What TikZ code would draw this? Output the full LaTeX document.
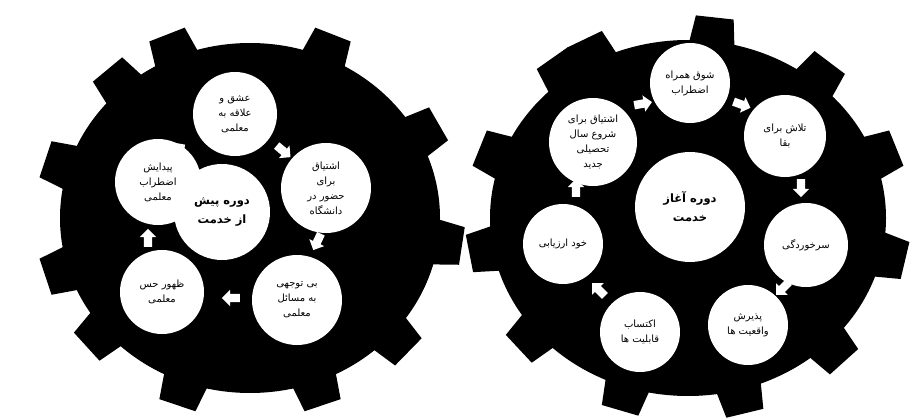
\documentclass[tikz,border=0pt]{standalone}
\usepackage{fontspec}
\newfontfamily\arabicfont[Script=Arabic]{DejaVu Sans}
\TeXXeTstate=1
\usetikzlibrary{shapes.arrows,calc}
\newcommand\fa[1]{\beginR #1\endR}
\newcommand\gearshape[6]{%
  \fill[black] (#1,#2) ellipse [x radius=#3, y radius=#4];
  \foreach \t in {#6} {%
    \pgfmathsetmacro\px{#1+#3*cos(\t)}%
    \pgfmathsetmacro\py{#2+#4*sin(\t)}%
    \pgfmathsetmacro\tx{-#3*sin(\t)}%
    \pgfmathsetmacro\ty{#4*cos(\t)}%
    \pgfmathsetmacro\tl{veclen(\tx,\ty)}%
    \pgfmathsetmacro\ux{\tx/\tl}%
    \pgfmathsetmacro\uy{\ty/\tl}%
    \fill[black] ({\px-24*\ux-12*\uy},{\py-24*\uy+12*\ux})
      -- ({\px-19*\ux+#5*\uy},{\py-19*\uy-#5*\ux})
      -- ({\px+19*\ux+#5*\uy},{\py+19*\uy-#5*\ux})
      -- ({\px+24*\ux-12*\uy},{\py+24*\uy+12*\ux}) -- cycle;
  }%
}
\tikzset{
  bubble/.style={circle, fill=white, inner sep=0pt, minimum size=#1, align=center,
    font=\arabicfont\fontsize{10}{15}\selectfont},
  bubble/.default=84,
  hub/.style={circle, fill=white, inner sep=0pt, minimum size=#1, align=center,
    font=\arabicfont\bfseries\fontsize{11.5}{19}\selectfont},
  blockarrow/.style={single arrow, fill=white, draw=none, inner sep=4pt,
    minimum height=18pt, single arrow head extend=4pt, single arrow tip angle=90}
}
\begin{document}
\begin{tikzpicture}[x=1pt,y=-1pt]
\useasboundingbox (0,0) rectangle (919,420);
\fill[white] (0,0) rectangle (919,420);
% left gear
\gearshape{250}{218}{190}{175}{24}{-113,-67,-28,8,42,70,110,140,163,197,228}
% right gear
\gearshape{688}{218}{198}{178}{24}{-118,-83,-50,-20,12,45,75,108,140,170,200,232}

% left gear bubbles
\node[bubble=84] (l1) at (235,114) {\fa{عشق و}\\\fa{علاقه به}\\\fa{معلمی}};
\node[bubble=90] (l2) at (326,188) {\fa{اشتیاق}\\\fa{برای}\\\fa{حضور در}\\\fa{دانشگاه}};
\node[bubble=86] (l3) at (158,182) {\fa{پیدایش}\\\fa{اضطراب}\\\fa{معلمی}};
\node[hub=96] (l0) at (222,212) {\fa{دوره پیش}\\\fa{از خدمت}};
\node[bubble=84] (l4) at (162,292) {\fa{ظهور حس}\\\fa{معلمی}};
\node[bubble=90] (l5) at (297,300) {\fa{بی توجهی}\\\fa{به مسائل}\\\fa{معلمی}};
\node[blockarrow, rotate=-40] (la1) at (282,150) {};
\node[blockarrow, rotate=-115] (la2) at (318,240) {};
\node[blockarrow, rotate=180] (la3) at (233,298) {};
\node[blockarrow, rotate=90] (la4) at (148,240) {};
\node[blockarrow, rotate=35] (la5) at (176,151) {};

% right gear bubbles
\node[bubble=80] (r1) at (690,83) {\fa{شوق همراه}\\\fa{اضطراب}};
\node[bubble=88] (r2) at (593,142) {\fa{اشتیاق برای}\\\fa{شروع سال}\\\fa{تحصیلی}\\\fa{جدید}};
\node[bubble=82] (r3) at (785,136) {\fa{تلاش برای}\\\fa{بقا}};
\node[hub=110] (r0) at (690,207) {\fa{دوره آغاز}\\\fa{خدمت}};
\node[bubble=84] (r4) at (806,245) {\fa{سرخوردگی}};
\node[bubble=80] (r5) at (563,244) {\fa{خود ارزیابی}};
\node[bubble=80] (r6) at (748,325) {\fa{پذیرش}\\\fa{واقعیت ها}};
\node[bubble=80] (r7) at (640,332) {\fa{اکتساب}\\\fa{قابلیت ها}};
\node[blockarrow, rotate=10] (ra1) at (641,104) {};
\node[blockarrow, rotate=-20] (ra2) at (740,104) {};
\node[blockarrow, rotate=-90] (ra3) at (801,186) {};
\node[blockarrow, rotate=-135] (ra4) at (784,287) {};
\node[blockarrow, rotate=135] (ra5) at (600,291) {};
\node[blockarrow, rotate=90] (ra6) at (576,190) {};
\end{tikzpicture}
\end{document}
